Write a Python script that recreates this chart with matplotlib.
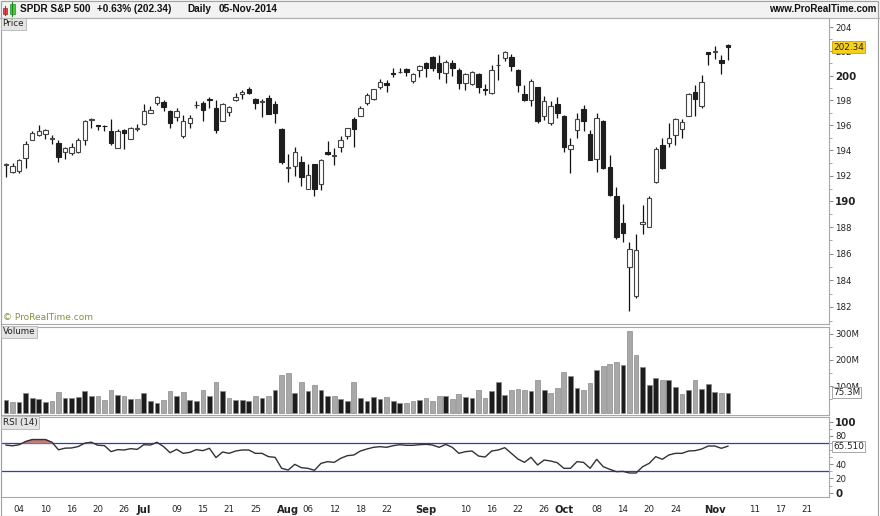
import numpy as np
import matplotlib
matplotlib.use("Agg")
import matplotlib.pyplot as plt
import matplotlib.transforms as mtransforms
from matplotlib.patches import Rectangle
from matplotlib.lines import Line2D

# SPY daily candles, 02-Jun-2014 .. 05-Nov-2014
opens = [192.85, 192.3, 192.4, 193.4, 194.8, 195.2, 195.3, 194.9, 194.6, 193.9,
         193.8, 193.9, 194.8, 196.45, 196.0, 195.95, 195.5, 194.2, 195.6, 194.9,
         195.7, 196.1, 197.0, 197.8, 197.85, 197.15, 196.65, 195.15, 196.2, 197.6,
         197.75, 198.1, 197.4, 196.35, 197.05, 198.0, 198.5, 198.9, 198.1, 197.85,
         198.2, 197.7, 195.7, 192.6, 192.8, 193.1, 191.0, 192.9, 191.35, 193.9,
         193.55, 194.25, 195.1, 196.5, 196.75, 197.75, 198.1, 199.05, 199.4, 200.2,
         200.28, 200.5, 199.6, 200.45, 201.0, 201.5, 201.0, 200.25, 201.0, 200.45,
         199.4, 199.3, 200.1, 198.95, 198.55, 200.83, 201.45, 201.5, 200.45, 198.5,
         198.0, 199.05, 196.7, 196.2, 197.7, 196.7, 194.1, 195.6, 197.3, 195.3,
         193.35, 196.3, 192.7, 190.4, 188.35, 185.0, 182.8, 188.3, 188.05, 191.55,
         194.4, 194.55, 195.2, 195.7, 196.75, 198.65, 197.55, 201.9, 201.95, 201.3,
         202.55]
highs = [193.0, 193.0, 193.3, 194.7, 195.5, 196.0, 195.7, 195.2, 194.8, 194.3,
         194.6, 195.0, 196.4, 196.6, 196.05, 196.0, 196.5, 195.7, 195.7, 195.85,
         196.1, 197.7, 197.55, 198.35, 198.0, 197.2, 197.4, 196.8, 196.8, 197.9,
         197.9, 198.25, 198.0, 197.75, 197.55, 198.55, 198.85, 199.05, 198.2, 198.1,
         198.45, 197.9, 195.75, 193.7, 194.25, 193.55, 192.9, 192.9, 193.35, 194.7,
         194.15, 195.1, 195.8, 196.65, 197.5, 198.55, 198.95, 199.75, 199.65, 200.6,
         200.6, 200.6, 200.25, 200.85, 201.1, 201.6, 201.65, 201.25, 201.3, 200.6,
         200.25, 200.4, 200.2, 199.3, 200.85, 201.8, 202.0, 201.8, 200.5, 199.25,
         199.7, 199.1, 198.35, 197.9, 198.3, 196.8, 195.0, 196.95, 197.6, 195.65,
         196.95, 196.4, 193.6, 191.1, 189.8, 186.9, 187.5, 189.75, 190.4, 194.25,
         194.95, 196.15, 196.55, 196.5, 198.6, 199.2, 200.05, 201.95, 202.45, 201.65,
         202.6]
lows = [191.9, 192.2, 192.2, 192.6, 194.8, 195.1, 194.9, 194.5, 193.1, 193.3,
        193.6, 193.8, 194.4, 195.8, 195.6, 195.5, 194.4, 194.2, 194.1, 194.9,
        195.55, 196.0, 197.0, 197.6, 197.15, 195.75, 196.3, 195.0, 195.75, 197.4,
        196.35, 197.4, 195.35, 196.3, 196.75, 197.9, 198.1, 198.5, 197.3, 196.65,
        196.9, 196.15, 192.9, 191.55, 192.0, 191.2, 191.0, 190.45, 190.9, 193.6,
        192.85, 193.9, 194.9, 194.3, 196.7, 197.65, 198.0, 198.95, 198.7, 199.9,
        200.25, 199.95, 199.4, 199.9, 199.9, 200.4, 199.75, 199.4, 200.0, 198.9,
        198.85, 199.25, 198.55, 198.45, 198.5, 199.65, 201.2, 200.35, 198.7, 197.9,
        197.5, 196.2, 196.4, 196.0, 196.55, 193.9, 192.25, 195.0, 195.55, 193.2,
        192.3, 192.55, 190.45, 187.15, 186.9, 181.7, 182.7, 187.5, 188.0, 191.4,
        192.5, 194.25, 194.4, 194.95, 196.7, 196.75, 197.4, 200.9, 201.35, 200.1,
        201.3]
closes = [192.9, 192.76, 193.2, 194.5, 195.4, 195.5, 195.6, 194.95, 193.5, 194.2,
          194.3, 194.8, 196.3, 196.5, 195.9, 195.9, 194.6, 195.5, 195.4, 195.8,
          195.72, 197.1, 197.2, 198.25, 197.45, 196.2, 197.1, 196.35, 196.6, 197.62,
          197.2, 198.0, 195.6, 197.7, 197.45, 198.25, 198.65, 198.6, 197.75, 197.87,
          196.9, 197.0, 193.1, 192.62, 193.85, 191.9, 192.05, 191.0, 193.2, 193.7,
          193.57, 194.8, 195.75, 195.7, 197.4, 198.4, 198.9, 199.45, 199.2, 200.1,
          200.3, 200.3, 200.15, 200.8, 200.65, 200.6, 200.3, 201.1, 200.65, 199.4,
          200.1, 200.3, 199.1, 198.8, 200.45, 200.87, 201.9, 200.8, 199.2, 198.0,
          199.6, 196.3, 197.9, 197.55, 196.95, 194.3, 194.4, 196.5, 196.3, 193.2,
          196.6, 192.6, 190.5, 187.3, 187.6, 186.35, 186.25, 188.4, 190.25, 194.1,
          192.6, 194.95, 196.5, 196.25, 198.5, 198.1, 199.45, 201.75, 202.0, 201.07,
          202.34]

# volume in millions, 'd' = dark bar, 'g' = grey bar
volumes = [47.5, 41, 39, 74, 55, 51, 39, 45, 78, 55, 55, 59, 82, 61.5, 64, 47.5,
           84, 65, 64, 51, 51, 74, 42.5, 35, 47.5, 82, 61.5, 78, 47.5, 42.5, 87,
           61.5, 116, 82, 55, 47.5, 47.5, 45, 64, 55, 64, 87, 142.5, 150, 74, 116,
           82, 103, 87, 61.5, 61.5, 51, 45, 116, 55, 42.5, 59, 51, 59, 45, 35, 35,
           42.5, 47.5, 55, 45, 64,
           64, 50, 70, 58, 54, 87, 54, 82, 115, 66.5, 87, 90.5, 84, 82, 122, 84,
           74, 93, 155, 139, 93, 87, 111, 161.5, 175.5, 185.5, 191, 182, 309, 219,
           172, 103, 130, 122, 122, 97, 70, 87, 122, 90.5, 107, 78, 74, 75.3]
vol_shade = list("dgdddddggdddddgggdgdgdddggdgddgdgdgdddgdgdggdgdgddgddgddddgddggdggg"
                 "dggddggdddgggdgdgggddggdgggdggdddgddgdgdddgd")

rsi = [67, 66, 67.5, 72, 74.8, 74.8, 74.8, 71, 60.4, 62.7, 63, 65, 69.7, 71, 66.8,
       66.3, 57.8, 60.6, 60.1, 62, 61, 67.6, 67.1, 70.9, 65, 56.3, 61, 55.4, 56.8,
       60.6, 59.2, 62.5, 49.4, 57.3, 55.4, 58.7, 60.1, 60.1, 55.4, 55.4, 50.7, 49.8,
       34.3, 31.9, 39.9, 35.2, 34.3, 31.5, 41.3, 43.7, 42.7, 48.4, 52.1, 53.1, 58.7,
       61.5, 63.9, 64.8, 63.9, 66.2, 67.6, 66.7, 66.7, 67.6, 68.1, 67.1, 63.9,
       68, 63.9, 55.4, 57.8, 58.7, 51.6, 50.2, 58.7, 60.1, 63.4, 55.4, 47.4, 42.7,
       49.8, 39, 46, 44.6, 42.2, 34.3, 34.3, 43.7, 42.7, 34.3, 47, 36.6, 32.9, 29.6,
       30, 27.7, 27.7, 36.6, 41.3, 50.7, 47, 53.1, 55.4, 55.4, 58.7, 59.2, 61.5,
       65.7, 65.7, 62.5, 65.51]

# date axis: bar index of each label
date_pos = [2, 6, 10, 14, 18, 21, 26, 30, 34, 38, 43, 46, 50, 54, 58, 64, 70, 74,
            78, 82, 85, 90, 94, 98, 102, 108, 114, 118, 122]
date_labels = ["04", "10", "16", "20", "26", "Jul", "09", "15", "21", "25", "Aug",
               "06", "12", "18", "22", "Sep", "10", "16", "22", "26", "Oct", "08",
               "14", "20", "24", "Nov", "11", "17", "21"]
months = {"Jul", "Aug", "Sep", "Oct", "Nov"}

price_ticks = [182, 184, 186, 188, 190, 192, 194, 196, 198, 200, 202, 204]

W, H = 880.0, 516.0
plt.rcParams['font.family'] = 'DejaVu Sans'
fig = plt.figure(figsize=(8.8, 5.16), dpi=100)
fig.patch.set_facecolor('white')

def panel(top, bottom):
    return fig.add_axes([1 / W, 1 - bottom / H, 828 / W, (bottom - top) / H])

ax_p = panel(18, 323.5)
ax_v = panel(326.5, 414.5)
ax_r = panel(417, 497)

o = np.array(opens); h = np.array(highs); l = np.array(lows); c = np.array(closes)
x = np.arange(len(c))
up = c >= o
lo = np.minimum(o, c)
ht = np.maximum(np.abs(c - o), 0.05)
XMIN, XMAX = -0.76, 125.4
EDGE = '#a8a8a8'

for ax in (ax_p, ax_v, ax_r):
    ax.set_xlim(XMIN, XMAX)
    for s in ax.spines.values():
        s.set_color(EDGE)
        s.set_linewidth(0.8)
    ax.yaxis.tick_right()
    ax.tick_params(axis='y', which='major', length=3, width=0.6, color='#777',
                   pad=1.5, labelsize=6.2, labelcolor='#222')
    ax.tick_params(axis='y', which='minor', length=2, width=0.6, color='#999')

# price candles
ax_p.vlines(x, l, h, color='#111', lw=0.9, zorder=1)
ax_p.bar(x[up], ht[up], bottom=lo[up], width=0.68, color='white',
         edgecolor='#444', lw=0.8, zorder=2)
ax_p.bar(x[~up], ht[~up], bottom=lo[~up], width=0.68, color='#1e1e1e',
         edgecolor='#1e1e1e', lw=0.8, zorder=2)
ax_p.set_yscale('log')
ax_p.set_ylim(180.78, 204.75)
ax_p.set_yticks(price_ticks, [str(t) for t in price_ticks])
ax_p.set_yticks([t + 1 for t in price_ticks[:-1]] + [181], minor=True)
ax_p.yaxis.set_minor_formatter(matplotlib.ticker.NullFormatter())
for t, lab in zip(price_ticks, ax_p.get_yticklabels()):
    if t % 10 == 0:
        lab.set_fontweight('bold')
        lab.set_fontsize(7.4)
ax_p.set_xticks([])
tr = mtransforms.blended_transform_factory(ax_p.transAxes, ax_p.transData)
ax_p.text(1.0048, closes[-1], f"{closes[-1]:.2f}", transform=tr, va='center', ha='left',
          fontsize=6.4, color='#222', zorder=10, clip_on=False,
          bbox=dict(boxstyle='square,pad=0.12', fc='#f7d117', ec='#c9a400', lw=0.6))

# volume
vol = np.array(volumes)
vcol = ['#1c1c1c' if s == 'd' else '#a8a8a8' for s in vol_shade]
ax_v.bar(x, vol, width=0.72, color=vcol, edgecolor='#8a8a8a', lw=0.5)
ax_v.set_ylim(-7.6, 327)
ax_v.set_yticks([100, 200, 300], ["100M", "200M", "300M"])
ax_v.set_yticks([50, 150, 250], minor=True)
ax_v.set_xticks([])
tr = mtransforms.blended_transform_factory(ax_v.transAxes, ax_v.transData)
ax_v.text(1.0048, volumes[-1], f"{volumes[-1]:.1f}M", transform=tr, va='center',
          ha='left', fontsize=6.4, color='#222', zorder=10, clip_on=False,
          bbox=dict(boxstyle='square,pad=0.12', fc='white', ec='#999', lw=0.6))

# RSI
r = np.array(rsi)
ax_r.axhline(70, color='#3434d8', lw=0.9, zorder=1)
ax_r.axhline(30, color='#3434d8', lw=0.9, zorder=1)
ax_r.fill_between(x, r, 70, where=r > 70, interpolate=True, color='#c27c7c', zorder=2)
ax_r.plot(x, r, color='#333', lw=1.0, zorder=3)
ax_r.set_ylim(-6.1, 106.6)
ax_r.set_yticks([0, 20, 40, 80, 100], ["0", "20", "40", "80", "100"])
ax_r.set_yticks([10, 30, 50, 60, 70, 90], minor=True)
for lab in ax_r.get_yticklabels():
    if lab.get_text() in ("0", "100"):
        lab.set_fontweight('bold')
        lab.set_fontsize(7.4)
tr = mtransforms.blended_transform_factory(ax_r.transAxes, ax_r.transData)
ax_r.text(1.0048, rsi[-1], f"{rsi[-1]:.3f}", transform=tr, va='center', ha='left',
          fontsize=6.4, color='#222', zorder=10, clip_on=False,
          bbox=dict(boxstyle='square,pad=0.12', fc='white', ec='#999', lw=0.6))
ax_r.set_xticks(date_pos, date_labels)
ax_r.tick_params(axis='x', length=0, pad=5.5, labelsize=6.2, labelcolor='#222')
for lab in ax_r.get_xticklabels():
    if lab.get_text() in months:
        lab.set_fontweight('bold')
        lab.set_fontsize(7.2)

# panel name tags
for name, py in (("Price", 24), ("Volume", 332), ("RSI (14)", 422.5)):
    fig.text(2.5 / W, 1 - py / H, name, fontsize=6.3, color='#222', va='center', ha='left',
             bbox=dict(boxstyle='square,pad=0.2', fc='#e4e4e4', ec='#b4b4b4', lw=0.6))
fig.text(3 / W, 1 - 317.5 / H, "\u00a9 ProRealTime.com", fontsize=6.5, color='#7f9440',
         va='center', ha='left')

# header bar
fig.add_artist(Rectangle((0, 1 - 17.5 / H), 1, 17.5 / H, transform=fig.transFigure,
                         fc='#f2f2f2', ec='none', zorder=0))
fig.add_artist(Line2D([0, 1], [1 - 17.5 / H] * 2, transform=fig.transFigure,
                      color='#b0b0b0', lw=0.8))
# little candle icon
fig.add_artist(Line2D([5 / W] * 2, [1 - 15 / H, 1 - 6 / H], transform=fig.transFigure,
                      color='#b03030', lw=0.8))
fig.add_artist(Rectangle((3 / W, 1 - 14 / H), 4 / W, 6 / H, transform=fig.transFigure,
                         fc='#e04848', ec='#a02828', lw=0.5))
fig.add_artist(Line2D([12 / W] * 2, [1 - 16 / H, 1 - 2 / H], transform=fig.transFigure,
                      color='#208020', lw=0.8))
fig.add_artist(Rectangle((10 / W, 1 - 14 / H), 5 / W, 10 / H, transform=fig.transFigure,
                         fc='#40d040', ec='#209020', lw=0.5))
HEAD_FONT = ['Liberation Sans', 'DejaVu Sans']
for txt, px in (("SPDR S&P 500", 20), ("+0.63% (202.34)", 97), ("Daily", 187),
                ("05-Nov-2014", 219)):
    fig.text(px / W, 1 - 9.5 / H, txt, fontsize=7.2, fontweight='bold', color='#111',
             va='center', ha='left', family=HEAD_FONT)
fig.text(876 / W, 1 - 9.5 / H, "www.ProRealTime.com", fontsize=7, fontweight='bold',
         color='#111', va='center', ha='right', family=HEAD_FONT)

fig.add_artist(Rectangle((0.5 / W, 0.5 / H), (W - 3) / W, (H - 1) / H,
                         transform=fig.transFigure, fill=False, ec='#a0a0a0', lw=0.8))

fig.savefig("out.png", dpi=100)
